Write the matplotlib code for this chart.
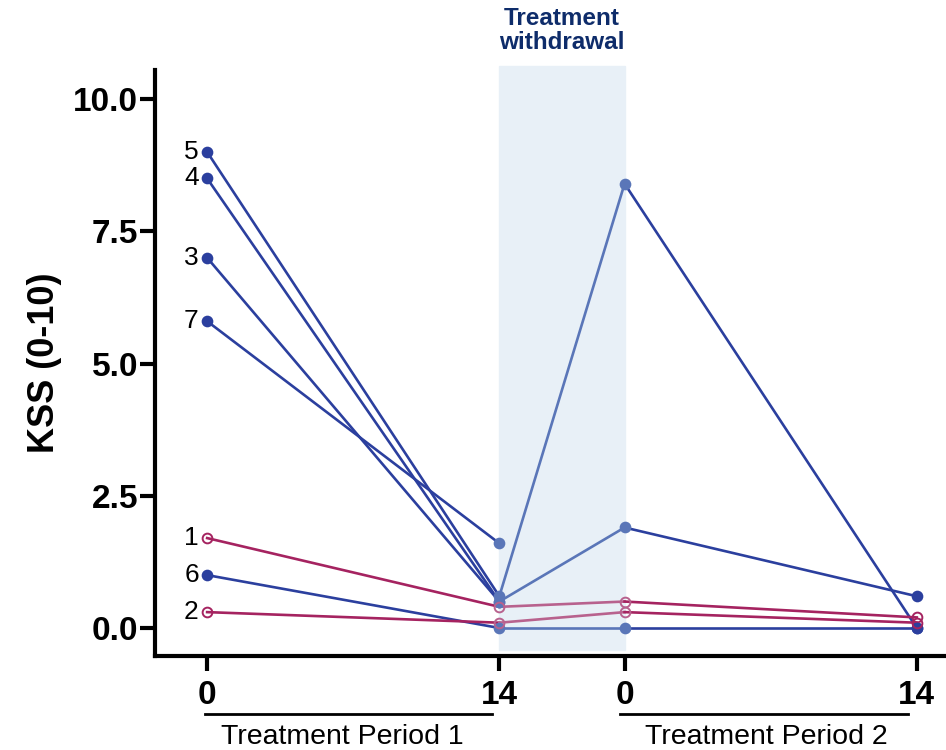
import numpy as np
import matplotlib.pyplot as plt
from matplotlib.patches import Rectangle

plt.rcParams['font.family'] = ['Liberation Sans', 'DejaVu Sans']

# x positions of the four visits (day 0/14 of period 1, day 0/14 of period 2)
visit_pos = [0, 14, 20, 34]
visit_labels = ['0', '14', '0', '14']

# KSS per subject: [P1 d0, P1 d14, P2 d0, P2 d14]
subjects = ['5', '4', '3', '7', '1', '6', '2']
kss_5 = [9.0, 0.6, 8.4, 0.0]
kss_4 = [8.5, 0.5, 1.9, 0.6]
kss_3 = [7.0, 0.5, np.nan, np.nan]
kss_7 = [5.8, 1.6, np.nan, np.nan]
kss_1 = [1.7, 0.4, 0.5, 0.2]
kss_6 = [1.0, 0.0, 0.0, 0.0]
kss_2 = [0.3, 0.1, 0.3, 0.1]
placebo_first = ['1', '2']   # open pink markers

series = {'5': kss_5, '4': kss_4, '3': kss_3, '7': kss_7,
          '1': kss_1, '6': kss_6, '2': kss_2}

blue, blue_lt = '#2b3f9e', '#5a76b8'
pink, pink_lt = '#a52360', '#b8628e'

fig = plt.figure(figsize=(9.46, 7.5), dpi=100)
ax = fig.add_axes([0.1638, 0.1253, 0.8362, 0.7814])

ax.set_xlim(-2.5, 35.4)
ax.set_ylim(-0.53, 10.55)

# withdrawal band
ax.add_patch(Rectangle((14, -0.42), 6, 11.04, color='#e8f0f7', zorder=0, clip_on=False))
ax.text(17, 11.3, 'Treatment\nwithdrawal', ha='center', va='center', fontsize=17.5,
        fontweight='bold', color='#0e2c6a', linespacing=1.05)

for s in subjects:
    v = series[s]
    open_m = s in placebo_first
    c, c_lt = (pink, pink_lt) if open_m else (blue, blue_lt)
    fc = 'none' if open_m else c
    fc_lt = 'none' if open_m else c_lt
    # period 1
    ax.plot(visit_pos[:2], v[:2], '-', color=c, lw=1.9, zorder=2)
    # withdrawal
    ax.plot(visit_pos[1:3], v[1:3], '-', color=c_lt, lw=1.9, zorder=2)
    # period 2
    ax.plot(visit_pos[2:], v[2:], '-', color=c, lw=1.9, zorder=2)
    for i in range(4):
        col = c_lt if i in (1, 2) else c
        face = fc_lt if i in (1, 2) else fc
        ax.plot(visit_pos[i], v[i], 'o', ms=7, mec=col, mfc=face, mew=1.4, zorder=3)
    ax.text(visit_pos[0] - 0.4, v[0], s, ha='right', va='center', fontsize=19)

ax.set_xticks(visit_pos)
ax.set_xticklabels(visit_labels)
ax.set_yticks([0, 2.5, 5, 7.5, 10])
ax.set_yticklabels(['0.0', '2.5', '5.0', '7.5', '10.0'])
for lab in ax.get_xticklabels() + ax.get_yticklabels():
    lab.set_fontweight('bold')
    lab.set_fontsize(24)
ax.tick_params(width=3, length=11)
ax.tick_params(axis='y', pad=1)
ax.tick_params(axis='x', pad=6)

ax.set_ylabel('KSS (0-10)', fontsize=26, fontweight='bold', labelpad=8)
for side in ['top', 'right']:
    ax.spines[side].set_visible(False)
for side in ['left', 'bottom']:
    ax.spines[side].set_linewidth(3)

# period brackets under the axis
fig.add_artist(plt.Line2D([205/946, 492/946], [1 - 714/750] * 2, color='black', lw=2))
fig.add_artist(plt.Line2D([620/946, 908/946], [1 - 714/750] * 2, color='black', lw=2))
fig.text(342/946, 1 - 737/750, 'Treatment Period 1', ha='center', va='center', fontsize=20.5)
fig.text(766/946, 1 - 737/750, 'Treatment Period 2', ha='center', va='center', fontsize=20.5)

fig.savefig('out.png', dpi=100)
